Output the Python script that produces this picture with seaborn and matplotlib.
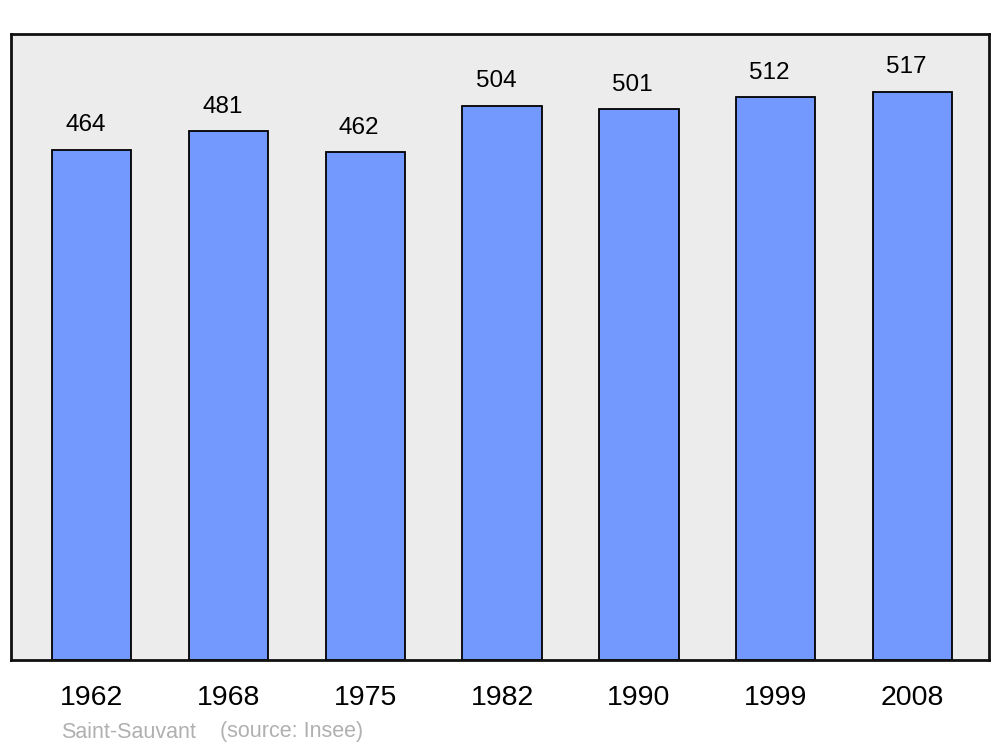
import matplotlib
matplotlib.use('Agg')
import matplotlib.pyplot as plt
import seaborn as sns
import pandas as pd

# population data
years = ['1962', '1968', '1975', '1982', '1990', '1999', '2008']
population = [464, 481, 462, 504, 501, 512, 517]
town = 'Saint-Sauvant'
source = '(source: Insee)'

df = pd.DataFrame({'year': years, 'population': population})

sns.set_style('white')
plt.rcParams['font.family'] = ['Liberation Sans', 'DejaVu Sans']

fig = plt.figure(figsize=(10, 7.47), dpi=100)
ax = fig.add_axes([0.011, 1 - 660 / 747, 0.978, 626 / 747])
ax.set_facecolor('#ececec')

sns.barplot(data=df, x='year', y='population', color='#7399ff', width=0.58,
            saturation=1, edgecolor='black', linewidth=1.3, ax=ax)

for i, v in enumerate(population):
    ax.text(i - 0.045, v + 17, str(v), ha='center', va='baseline',
            fontsize=17.5, color='black')

ax.set_xlim(-0.59, 6.56)
ax.set_ylim(0, 569.6)
ax.set_xlabel('')
ax.set_ylabel('')
ax.set_yticks([])
ax.tick_params(axis='x', length=0, labelsize=20.5, pad=18, labelcolor='black')
for lbl in ax.get_xticklabels():
    lbl.set_x(lbl.get_position()[0])
for s in ax.spines.values():
    s.set_visible(True)
    s.set_linewidth(2)
    s.set_color('#111111')

y_src = 1 - 732 / 747
fig.text(0.061, y_src, town, fontsize=15.5, color='#b0b0b0',
         va='center', ha='left')
fig.text(0.22, y_src, source, fontsize=15.5, color='#b0b0b0',
         va='center', ha='left')

fig.savefig('out.png', dpi=100)
